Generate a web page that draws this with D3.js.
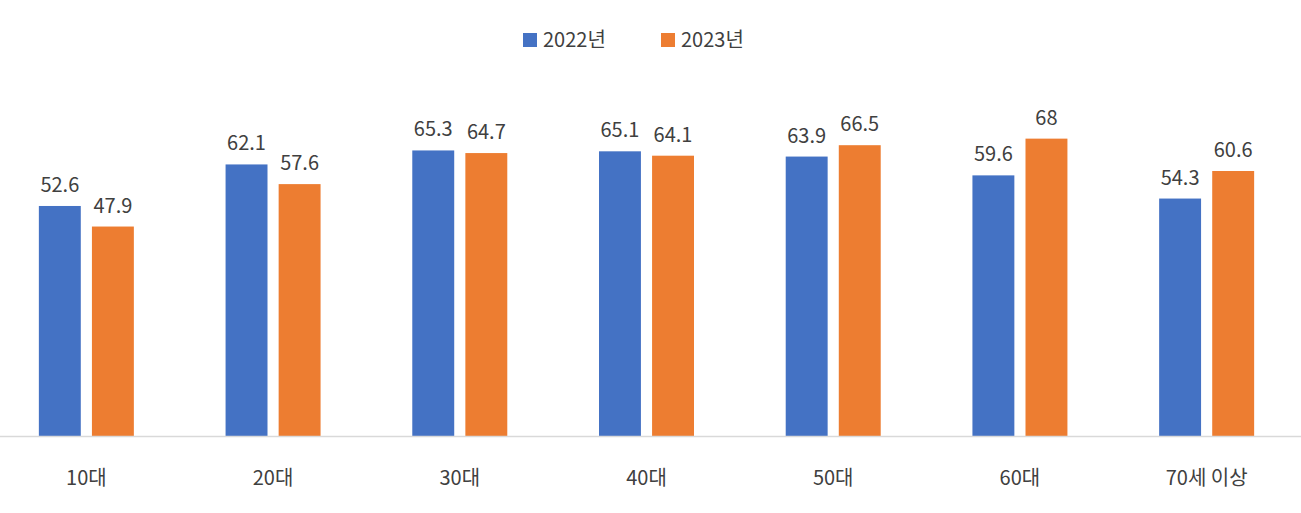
<!DOCTYPE html>
<html><head><meta charset="utf-8">
<script src="https://cdn.jsdelivr.net/npm/d3@7/dist/d3.min.js"></script>
<style>body{margin:0;background:#fff}text{font-family:"Noto Sans CJK KR","Noto Sans",sans-serif;fill:#404040}</style>
</head><body><svg id="c" width="1301" height="513"></svg>
<script>
const categories=["10대","20대","30대","40대","50대","60대","70세 이상"];
const series=["2022년","2023년"];
const values2022=[52.6,62.1,65.3,65.1,63.9,59.6,54.3];
const values2023=[47.9,57.6,64.7,64.1,66.5,68,60.6];
const colors=["#4472C4","#ED7D31"];
const svg=d3.select("#c");
const x0=d3.scaleBand().domain(categories).range([-7,1300]);
const x1=d3.scaleBand().domain(series).range([-47.5,47.5]).paddingInner(0.21);
const y=d3.scaleLinear().domain([0,100]).range([436,-1.3]);
const data=[values2022,values2023];
categories.forEach((c,i)=>{
  const cx=x0(c)+x0.bandwidth()/2;
  series.forEach((s,j)=>{
    const v=data[j][i];
    svg.append("rect").attr("x",cx+x1(s)).attr("y",y(v)).attr("width",x1.bandwidth()).attr("height",y(0)-y(v)).attr("fill",colors[j]);
    svg.append("text").attr("x",cx+x1(s)+x1.bandwidth()/2).attr("y",y(v)-14).attr("text-anchor","middle").attr("font-size",20).text(v);
  });
  svg.append("text").attr("x",cx).attr("y",485).attr("text-anchor","middle").attr("font-size",20).text(c);
});
svg.append("line").attr("x1",0).attr("x2",1301).attr("y1",436.5).attr("y2",436.5).attr("stroke","#d9d9d9").attr("stroke-width",1.5);
const lx=[523,661];
series.forEach((s,j)=>{
  svg.append("rect").attr("x",lx[j]).attr("y",33).attr("width",14).attr("height",14).attr("fill",colors[j]);
  svg.append("text").attr("x",lx[j]+20).attr("y",47).attr("font-size",20).text(s);
});
</script></body></html>
